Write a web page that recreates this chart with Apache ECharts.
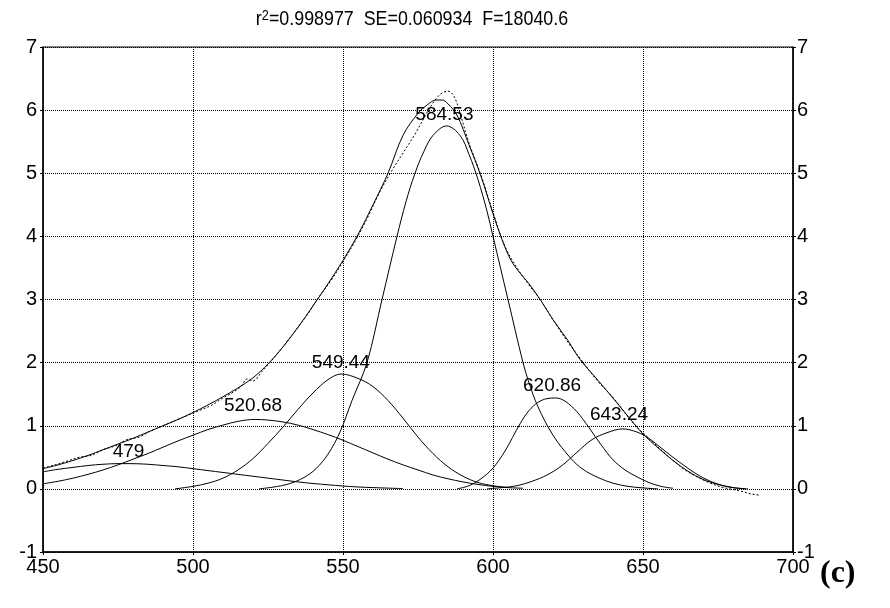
<!DOCTYPE html>
<html>
<head>
<meta charset="utf-8">
<script src="https://cdn.jsdelivr.net/npm/echarts@6/dist/echarts.min.js"></script>
<style>
html,body{margin:0;padding:0;background:#fff;}
#chart{width:890px;height:608px;}
</style>
</head>
<body>
<div id="chart"></div>
<script>
// ---- Data ----
const xTicks = [450, 500, 550, 600, 650, 700];
const yTicks = [-1, 0, 1, 2, 3, 4, 5, 6, 7];

const titleMain = 'r';
const titleSup = '2';
const titleRest = '=0.998977  SE=0.060934  F=18040.6';
const panelTag = '(c)';

// measured spectrum (dotted)
const measured = [[450,0.33],[454,0.38],[458,0.44],[462,0.5],[466,0.53],[470,0.62],[474,0.68],[478,0.78],[482,0.82],[486,0.92],[490,1.0],[494,1.08],[498,1.16],[502,1.24],[506,1.32],[510,1.44],[513,1.52],[516,1.62],[518,1.74],[520,1.71],[523,1.86],[526,2.02],[530,2.25],[534,2.5],[538,2.75],[542,3.04],[546,3.3],[550,3.6],[554,3.92],[558,4.28],[562,4.68],[566,5.02],[570,5.32],[574,5.62],[578,5.96],[581,6.18],[583,6.27],[585,6.3],[587,6.22],[589,5.95],[592,5.48],[596,4.97],[600,4.38],[604,3.84],[608,3.5],[612,3.23],[616,2.98],[620,2.68],[625,2.32],[629,2.07],[635,1.7],[640,1.45],[644,1.2],[648,0.98],[652,0.8],[656,0.62],[660,0.45],[664,0.3],[668,0.19],[672,0.1],[676,0.03],[680,-0.01],[683,-0.04],[686,-0.08],[689,-0.1]];

// fitted envelope (solid)
const fitted = [[450,0.32],[455,0.38],[460,0.45],[465,0.53],[470,0.62],[475,0.71],[480,0.8],[485,0.9],[490,1.0],[495,1.1],[500,1.21],[505,1.33],[510,1.46],[515,1.6],[520,1.76],[525,1.98],[530,2.25],[535,2.56],[540,2.9],[545,3.25],[550,3.62],[555,4.03],[560,4.5],[565,5.0],[570,5.6],[575,5.95],[578,6.08],[581,6.16],[583,6.16],[585,6.1],[588,5.92],[592,5.45],[596,4.95],[600,4.36],[603,3.95],[606,3.62],[609,3.42],[612,3.25],[616,2.98],[620,2.68],[625,2.35],[629,2.05],[635,1.72],[641,1.38],[645,1.15],[650,0.87],[655,0.65],[660,0.45],[665,0.28],[670,0.15],[675,0.07],[680,0.02],[685,0.0]];

// component bands
const band479 = [[450,0.27],[455,0.31],[460,0.34],[465,0.37],[470,0.39],[475,0.4],[479,0.4],[485,0.39],[490,0.37],[495,0.35],[500,0.32],[505,0.29],[510,0.26],[515,0.23],[520,0.2],[525,0.17],[530,0.14],[535,0.11],[540,0.085],[545,0.065],[550,0.045],[555,0.03],[560,0.02],[565,0.012],[570,0.005]];
const band521 = [[450,0.08],[455,0.12],[460,0.17],[465,0.23],[470,0.3],[475,0.38],[480,0.47],[485,0.56],[490,0.66],[495,0.76],[500,0.85],[505,0.94],[510,1.01],[515,1.07],[520.7,1.1],[525,1.09],[530,1.06],[535,1.01],[540,0.94],[545,0.86],[550,0.77],[555,0.67],[560,0.57],[565,0.47],[570,0.38],[575,0.3],[580,0.22],[585,0.16],[590,0.11],[595,0.07],[600,0.04],[605,0.02],[610,0.01]];
const band549 = [[494,0.0],[500,0.04],[505,0.09],[510,0.17],[515,0.3],[520,0.48],[525,0.72],[530,0.98],[535,1.26],[540,1.52],[545,1.73],[549.4,1.82],[555,1.75],[560,1.62],[565,1.4],[570,1.12],[575,0.82],[580,0.56],[585,0.35],[590,0.2],[595,0.1],[600,0.05],[605,0.02]];
const band585 = [[522,0.0],[527,0.03],[532,0.08],[537,0.18],[541,0.32],[545,0.55],[549,0.9],[553,1.4],[558,2.0],[563,3.0],[568,4.0],[571,4.55],[574,5.0],[577,5.35],[580,5.6],[584.5,5.75],[589,5.6],[592,5.3],[595,4.9],[598,4.4],[600,4.0],[605,3.0],[610,2.0],[612,1.68],[615,1.3],[620,0.85],[626,0.48],[630,0.31],[635,0.18],[640,0.09],[645,0.04],[650,0.015],[655,0.0]];
const band621 = [[588,0.0],[592,0.05],[596,0.16],[600,0.33],[604,0.6],[609,1.03],[612,1.24],[615,1.37],[618,1.43],[620.9,1.44],[624,1.39],[628,1.22],[632,0.97],[636,0.7],[640,0.46],[644,0.3],[648,0.19],[652,0.1],[656,0.04],[660,0.01]];
const band643 = [[598,0.0],[603,0.02],[608,0.05],[613,0.12],[618,0.22],[623,0.37],[628,0.58],[633,0.78],[638,0.89],[643.2,0.95],[648,0.9],[652,0.8],[656,0.65],[660,0.5],[664,0.36],[668,0.23],[672,0.13],[676,0.06],[680,0.02],[684,0.0]];

// peak labels (text and anchor position in data units)
const peakNames = ['479', '520.68', '549.44', '584.53', '620.86', '643.24'];
const peakLabelX = [478.5, 520, 549.3, 583.8, 619.7, 642];
const peakLabelY = [0.59, 1.31, 2.0, 5.92, 1.64, 1.18];

// ---- Chart ----
const FONT = '"Liberation Sans", Arial, sans-serif';
const chart = echarts.init(document.getElementById('chart'), null, {renderer: 'canvas'});

const components = [band479, band521, band549, band585, band621, band643];

function lineSeries(data, dashed, z) {
  return {
    type: 'line', data: data, showSymbol: false, smooth: 0.35, z: z || 3,
    lineStyle: {color: '#000', width: 1, type: dashed ? [2, 2] : 'solid'},
    silent: true, animation: false
  };
}

const series = [];
components.forEach(c => series.push(lineSeries(c, false, 3)));
series.push(lineSeries(measured, true, 4));
series.push(lineSeries(fitted, false, 5));
series.push({
  type: 'custom', z: 6, silent: true, animation: false,
  data: peakNames.map((n, i) => [peakLabelX[i], peakLabelY[i], i]),
  renderItem: function (params, api) {
    const pt = api.coord([api.value(0), api.value(1)]);
    return {
      type: 'text', x: pt[0], y: pt[1],
      style: {
        text: peakNames[api.value(2)], fill: '#000',
        font: '19px ' + FONT, textAlign: 'center', textVerticalAlign: 'middle'
      }
    };
  }
});

const axisText = {color: '#000', fontSize: 20, fontFamily: FONT};
const dotted = {show: true, lineStyle: {color: '#000', width: 1, type: [1, 1]}};

chart.setOption({
  backgroundColor: '#fff',
  animation: false,
  grid: {left: 43, right: 97, top: 47, bottom: 56, show: true, borderColor: '#000', borderWidth: 1, backgroundColor: 'transparent'},
  xAxis: {
    type: 'value', min: xTicks[0], max: xTicks[xTicks.length - 1], interval: 50,
    axisLine: {show: true, onZero: false, lineStyle: {color: '#000', width: 1.5}},
    axisTick: {show: true, length: 3, lineStyle: {color: '#000'}},
    axisLabel: Object.assign({margin: 5}, axisText),
    splitLine: dotted
  },
  yAxis: [
    {
      type: 'value', min: yTicks[0], max: yTicks[yTicks.length - 1], interval: 1, position: 'left',
      axisLine: {show: true, onZero: false, lineStyle: {color: '#000', width: 1.5}},
      axisTick: {show: true, length: 3, lineStyle: {color: '#000'}},
      axisLabel: Object.assign({margin: 6}, axisText),
      splitLine: dotted
    },
    {
      type: 'value', min: yTicks[0], max: yTicks[yTicks.length - 1], interval: 1, position: 'right',
      axisLine: {show: true, onZero: false, lineStyle: {color: '#000', width: 1.5}},
      axisTick: {show: true, length: 3, lineStyle: {color: '#000'}},
      axisLabel: Object.assign({margin: 4}, axisText),
      splitLine: {show: false}
    }
  ],
  graphic: [
    {
      type: 'text', x: 412, y: 19, scaleX: 0.85, silent: true,
      style: {
        text: '{a|' + titleMain + '}{s|' + titleSup + '}{a|' + titleRest + '}',
        textAlign: 'center', textVerticalAlign: 'middle',
        rich: {
          a: {fontSize: 21, fontFamily: FONT, fill: '#000', verticalAlign: 'bottom'},
          s: {fontSize: 15, fontFamily: FONT, fill: '#000', verticalAlign: 'top'}
        }
      }
    },
    {
      type: 'text', x: 820, y: 558, silent: true,
      style: {text: panelTag, font: 'bold 32px "Liberation Serif", "Times New Roman", serif', fill: '#000'}
    }
  ],
  series: series
});
</script>
</body>
</html>
